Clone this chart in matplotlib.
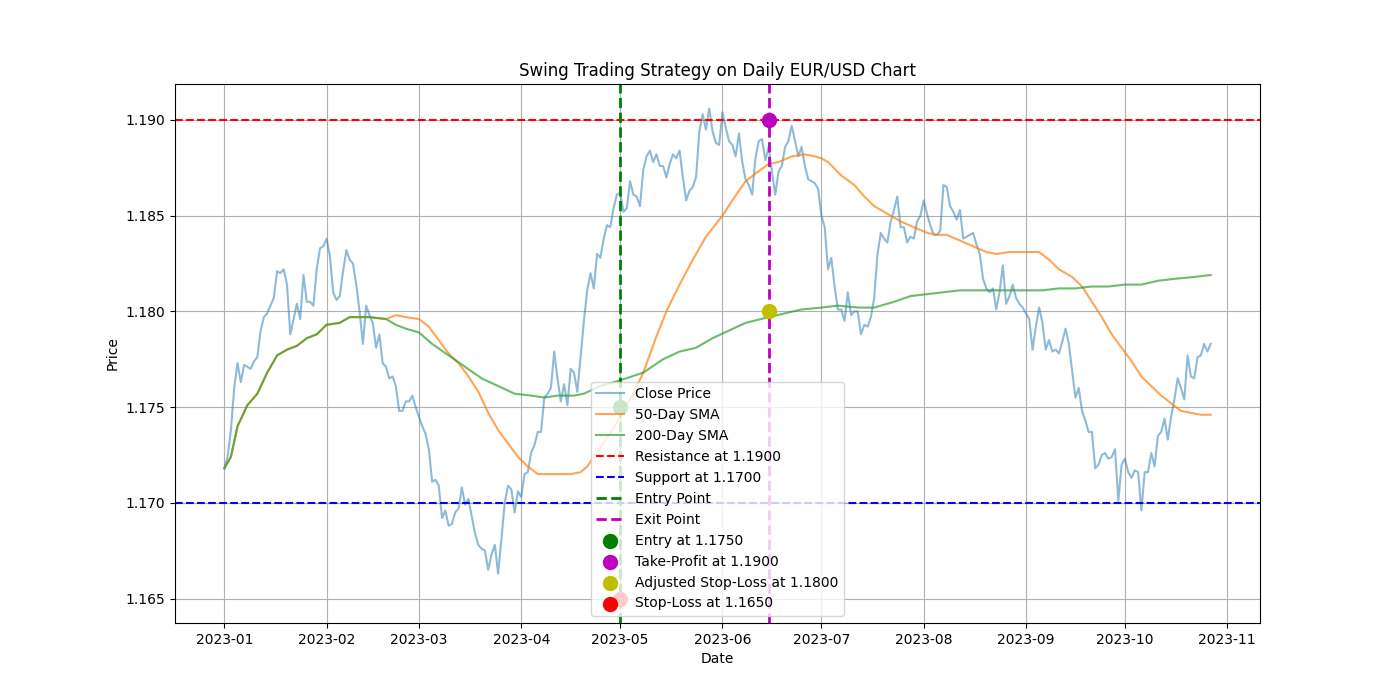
import numpy as np
import pandas as pd
import matplotlib
matplotlib.use("Agg")
import matplotlib.pyplot as plt

# Daily close prices (300 days from 2023-01-01)
close_prices = [
    1.1718, 1.1724, 1.1738, 1.1760, 1.1773, 1.1763, 1.1772, 1.1771, 1.1770, 1.1774,
    1.1776, 1.1790, 1.1797, 1.1799, 1.1803, 1.1807, 1.1821, 1.1820, 1.1822, 1.1814,
    1.1788, 1.1796, 1.1804, 1.1796, 1.1819, 1.1805, 1.1805, 1.1803, 1.1822, 1.1833,
    1.1834, 1.1838, 1.1829, 1.1810, 1.1806, 1.1808, 1.1821, 1.1832, 1.1827, 1.1825,
    1.1814, 1.1800, 1.1783, 1.1803, 1.1798, 1.1794, 1.1781, 1.1788, 1.1773, 1.1771,
    1.1765, 1.1766, 1.1761, 1.1748, 1.1748, 1.1753, 1.1753, 1.1756, 1.1750, 1.1745,
    1.1740, 1.1736, 1.1728, 1.1711, 1.1712, 1.1709, 1.1692, 1.1696, 1.1688, 1.1689,
    1.1695, 1.1697, 1.1708, 1.1699, 1.1702, 1.1693, 1.1684, 1.1678, 1.1676, 1.1675,
    1.1665, 1.1673, 1.1678, 1.1663, 1.1681, 1.1700, 1.1709, 1.1707, 1.1695, 1.1706,
    1.1703, 1.1715, 1.1716, 1.1726, 1.1730, 1.1737, 1.1737, 1.1755, 1.1757, 1.1760,
    1.1779, 1.1765, 1.1753, 1.1762, 1.1751, 1.1770, 1.1768, 1.1758, 1.1776, 1.1795,
    1.1811, 1.1820, 1.1812, 1.1830, 1.1828, 1.1838, 1.1845, 1.1844, 1.1854, 1.1861,
    1.1862, 1.1852, 1.1854, 1.1868, 1.1861, 1.1860, 1.1855, 1.1874, 1.1881, 1.1884,
    1.1878, 1.1882, 1.1876, 1.1876, 1.1870, 1.1877, 1.1882, 1.1880, 1.1884, 1.1870,
    1.1858, 1.1863, 1.1865, 1.1870, 1.1894, 1.1903, 1.1895, 1.1906, 1.1894, 1.1888,
    1.1887, 1.1904, 1.1896, 1.1889, 1.1887, 1.1881, 1.1893, 1.1878, 1.1869, 1.1866,
    1.1861, 1.1880, 1.1889, 1.1890, 1.1879, 1.1886, 1.1873, 1.1861, 1.1873, 1.1876,
    1.1886, 1.1889, 1.1897, 1.1889, 1.1881, 1.1886, 1.1876, 1.1869, 1.1868, 1.1867,
    1.1864, 1.1850, 1.1844, 1.1822, 1.1828, 1.1813, 1.1801, 1.1801, 1.1795, 1.1810,
    1.1798, 1.1800, 1.1800, 1.1788, 1.1793, 1.1792, 1.1797, 1.1807, 1.1830, 1.1841,
    1.1838, 1.1836, 1.1847, 1.1853, 1.1860, 1.1844, 1.1844, 1.1836, 1.1839, 1.1838,
    1.1847, 1.1850, 1.1858, 1.1851, 1.1845, 1.1840, 1.1840, 1.1842, 1.1866, 1.1865,
    1.1855, 1.1852, 1.1848, 1.1853, 1.1838, 1.1839, 1.1840, 1.1841, 1.1835, 1.1830,
    1.1817, 1.1812, 1.1810, 1.1812, 1.1801, 1.1810, 1.1824, 1.1804, 1.1808, 1.1814,
    1.1807, 1.1804, 1.1802, 1.1799, 1.1796, 1.1780, 1.1792, 1.1802, 1.1794, 1.1780,
    1.1785, 1.1779, 1.1780, 1.1778, 1.1784, 1.1791, 1.1783, 1.1769, 1.1755, 1.1760,
    1.1748, 1.1743, 1.1737, 1.1737, 1.1718, 1.1720, 1.1725, 1.1726, 1.1723, 1.1724,
    1.1728, 1.1701, 1.1720, 1.1723, 1.1716, 1.1713, 1.1717, 1.1716, 1.1696, 1.1716,
    1.1716, 1.1726, 1.1719, 1.1735, 1.1737, 1.1744, 1.1733, 1.1745, 1.1754, 1.1765,
    1.1760, 1.1754, 1.1777, 1.1766, 1.1765, 1.1776, 1.1777, 1.1783, 1.1779, 1.1783,
]

# Moving averages (day offset from 2023-01-01, value)
sma50_days = [0, 2, 4, 7, 10, 13, 16, 19, 22, 25, 28, 31, 35, 38, 44, 49, 52, 55, 59, 62,
              65, 68, 71, 74, 77, 80, 83, 86, 89, 92, 95, 99, 102, 105, 108, 110, 112, 114,
              118, 120, 124, 127, 131, 134, 138, 142, 146, 151, 154, 158, 161, 165, 168,
              172, 176, 179, 181, 183, 187, 191, 194, 197, 201, 205, 209, 213, 216, 219,
              223, 227, 231, 234, 238, 243, 247, 250, 253, 257, 260, 263, 266, 269, 272,
              275, 278, 281, 284, 287, 290, 293, 296, 299]
sma50_values = [1.1718, 1.1724, 1.1740, 1.1751, 1.1757, 1.1768, 1.1777, 1.1780, 1.1782,
                1.1786, 1.1788, 1.1793, 1.1794, 1.1797, 1.1797, 1.1796, 1.1798, 1.1797,
                1.1796, 1.1792, 1.1785, 1.1778, 1.1773, 1.1766, 1.1758, 1.1747, 1.1738,
                1.1731, 1.1724, 1.1719, 1.1715, 1.1715, 1.1715, 1.1715, 1.1716, 1.1719,
                1.1724, 1.1729, 1.1739, 1.1745, 1.1757, 1.1768, 1.1787, 1.1800, 1.1814,
                1.1827, 1.1839, 1.1850, 1.1858, 1.1868, 1.1872, 1.1877, 1.1878, 1.1881,
                1.1882, 1.1881, 1.1880, 1.1878, 1.1871, 1.1866, 1.1860, 1.1855, 1.1851,
                1.1847, 1.1844, 1.1841, 1.1840, 1.1840, 1.1837, 1.1834, 1.1831, 1.1830,
                1.1831, 1.1831, 1.1831, 1.1827, 1.1822, 1.1818, 1.1813, 1.1805, 1.1797,
                1.1788, 1.1781, 1.1774, 1.1766, 1.1761, 1.1756, 1.1752, 1.1748, 1.1747,
                1.1746, 1.1746]

sma200_days = [0, 2, 4, 7, 10, 13, 16, 19, 22, 25, 28, 31, 35, 38, 44, 49, 52, 55, 59, 63,
               68, 73, 78, 83, 88, 93, 97, 101, 106, 109, 114, 120, 127, 133, 138, 143, 148,
               153, 158, 165, 170, 175, 181, 186, 192, 197, 203, 208, 213, 218, 223, 228,
               233, 238, 243, 248, 253, 258, 263, 268, 273, 278, 283, 288, 294, 299]
sma200_values = [1.1718, 1.1724, 1.1740, 1.1751, 1.1757, 1.1768, 1.1777, 1.1780, 1.1782,
                 1.1786, 1.1788, 1.1793, 1.1794, 1.1797, 1.1797, 1.1796, 1.1793, 1.1791,
                 1.1789, 1.1783, 1.1777, 1.1771, 1.1765, 1.1761, 1.1757, 1.1756, 1.1755,
                 1.1756, 1.1756, 1.1757, 1.1761, 1.1764, 1.1768, 1.1775, 1.1779, 1.1781,
                 1.1786, 1.1790, 1.1794, 1.1797, 1.1799, 1.1801, 1.1802, 1.1803, 1.1802,
                 1.1802, 1.1805, 1.1808, 1.1809, 1.1810, 1.1811, 1.1811, 1.1811, 1.1811,
                 1.1811, 1.1811, 1.1812, 1.1812, 1.1813, 1.1813, 1.1814, 1.1814, 1.1816,
                 1.1817, 1.1818, 1.1819]

resistance = 1.1900
support = 1.1700
entry_date = '2023-05-01'
exit_date = '2023-06-15'
entry_price = 1.1750
take_profit = 1.1900
adjusted_stop = 1.1800
stop_loss = 1.1650


def main():
    start = pd.Timestamp('2023-01-01')
    dates = pd.date_range(start, periods=len(close_prices), freq='D')
    sma50_dates = start + pd.to_timedelta(sma50_days, unit='D')
    sma200_dates = start + pd.to_timedelta(sma200_days, unit='D')
    entry = pd.Timestamp(entry_date)
    exit_ = pd.Timestamp(exit_date)

    plt.figure(figsize=(14, 7), dpi=100)
    plt.plot(dates, close_prices, label='Close Price', alpha=0.5)
    plt.plot(sma50_dates, sma50_values, label='50-Day SMA', alpha=0.7)
    plt.plot(sma200_dates, sma200_values, label='200-Day SMA', alpha=0.7)

    plt.axhline(resistance, color='r', linestyle='--', label=f'Resistance at {resistance:.4f}')
    plt.axhline(support, color='b', linestyle='--', label=f'Support at {support:.4f}')
    plt.axvline(entry, color='g', linestyle='--', linewidth=2, label='Entry Point')
    plt.axvline(exit_, color='m', linestyle='--', linewidth=2, label='Exit Point')

    plt.scatter(entry, entry_price, color='g', s=100, zorder=5, label=f'Entry at {entry_price:.4f}')
    plt.scatter(exit_, take_profit, color='m', s=100, zorder=5, label=f'Take-Profit at {take_profit:.4f}')
    plt.scatter(exit_, adjusted_stop, color='y', s=100, zorder=5,
                label=f'Adjusted Stop-Loss at {adjusted_stop:.4f}')
    plt.scatter(entry, stop_loss, color='r', s=100, zorder=5, label=f'Stop-Loss at {stop_loss:.4f}')

    plt.title('Swing Trading Strategy on Daily EUR/USD Chart')
    plt.xlabel('Date')
    plt.ylabel('Price')
    plt.legend(loc='lower center')
    plt.grid(True)
    plt.savefig('out.png', dpi=100)
    plt.close()


if __name__ == "__main__":
    main()
